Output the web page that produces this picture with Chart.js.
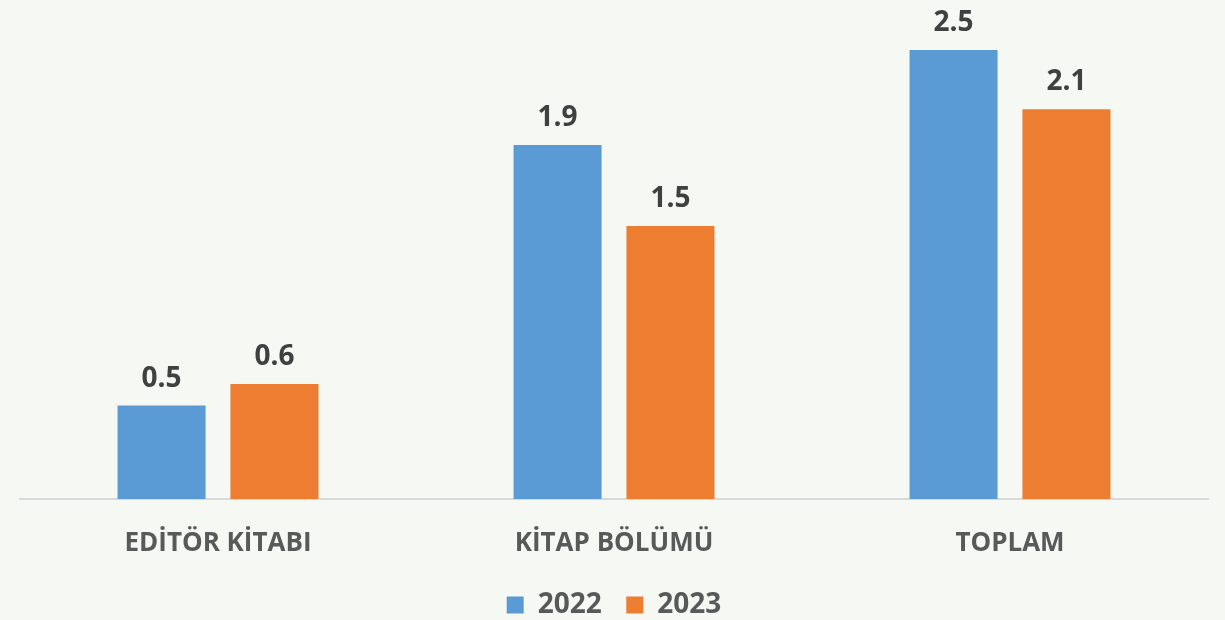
<!DOCTYPE html>
<html>
<head>
<meta charset="utf-8">
<script src="https://cdn.jsdelivr.net/npm/chart.js@4"></script>
<style>
    html, body { margin: 0; padding: 0; background: #f6f8f3; }
    #wrap { width: 1225px; height: 620px; }
</style>
</head>
<body>
<div id="wrap"><canvas id="myBarChart"></canvas></div>
<script>
// categories and series
const categories = ['EDİTÖR KİTABI', 'KİTAP BÖLÜMÜ', 'TOPLAM'];
const values2022 = [0.52, 1.97, 2.5];
const values2023 = [0.64, 1.52, 2.17];
const labels2022 = ['0.5', '1.9', '2.5'];
const labels2023 = ['0.6', '1.5', '2.1'];

const fontFamily = '"Open Sans", "DejaVu Sans", sans-serif';

// draws the value text above each bar
const valueLabels = {
    id: 'valueLabels',
    afterDatasetsDraw(chart) {
        const ctx = chart.ctx;
        const texts = [labels2022, labels2023];
        ctx.save();
        ctx.font = 'bold 28px ' + fontFamily;
        ctx.fillStyle = '#404040';
        ctx.textAlign = 'center';
        ctx.textBaseline = 'alphabetic';
        chart.data.datasets.forEach((ds, i) => {
            chart.getDatasetMeta(i).data.forEach((bar, j) => {
                ctx.fillText(texts[i][j], bar.x, bar.y - 19);
            });
        });
        ctx.restore();
    }
};

const barChartData = {
    labels: categories,
    datasets: [{
        label: '2022',
        data: values2022,
        backgroundColor: '#5b9bd5',
        borderWidth: 0
    }, {
        label: '2023',
        data: values2023,
        backgroundColor: '#ed7d31',
        borderWidth: 0
    }]
};

const barChartConfig = {
    type: 'bar',
    data: barChartData,
    plugins: [valueLabels],
    options: {
        responsive: true,
        maintainAspectRatio: false,
        animation: false,
        categoryPercentage: 0.57,
        barPercentage: 0.78,
        layout: {
            padding: { top: 5, left: 20, right: 17, bottom: -9 }
        },
        scales: {
            x: {
                grid: { display: false },
                border: { display: true, color: '#d9d9d9', width: 2 },
                ticks: {
                    color: '#595959',
                    padding: 21,
                    font: { family: fontFamily, size: 26, weight: 'bold' }
                },
                afterFit(axis) {
                    axis.height = 82;
                }
            },
            y: {
                display: false,
                min: 0,
                max: 2.75
            }
        },
        plugins: {
            legend: {
                position: 'bottom',
                labels: {
                    color: '#595959',
                    boxWidth: 17,
                    boxHeight: 17,
                    padding: 10,
                    font: { family: fontFamily, size: 28, weight: 'bold' },
                    // a little more room between the two legend items
                    generateLabels(chart) {
                        const items = Chart.defaults.plugins.legend.labels.generateLabels(chart);
                        items[0].text = items[0].text + '  ';
                        return items;
                    }
                }
            },
            tooltip: { enabled: false }
        }
    }
};

new Chart(
    document.getElementById('myBarChart'),
    barChartConfig
);
</script>
</body>
</html>
